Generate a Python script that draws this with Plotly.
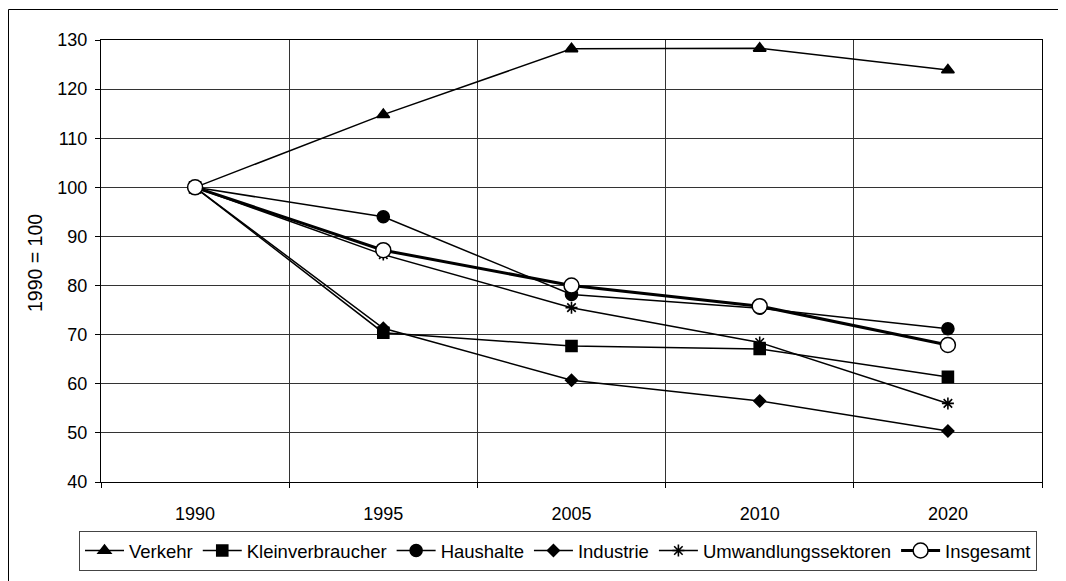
import plotly.graph_objects as go

years = ["1990", "1995", "2005", "2010", "2020"]
verkehr = [100, 114.8, 128.2, 128.3, 123.9]
kleinverbraucher = [100, 70.4, 67.7, 67.1, 61.4]
haushalte = [100, 94.0, 78.2, 75.4, 71.2]
industrie = [100, 71.3, 60.7, 56.5, 50.4]
umwandlung = [100, 86.3, 75.5, 68.4, 56.0]
insgesamt = [100, 87.2, 80.0, 75.8, 67.9]

series = [
    ("Verkehr", verkehr, "triangle-up", 11, 1.5),
    ("Kleinverbraucher", kleinverbraucher, "square", 11, 1.5),
    ("Haushalte", haushalte, "circle", 12, 1.5),
    ("Industrie", industrie, "diamond", 9, 1.5),
    ("Umwandlungssektoren", umwandlung, "asterisk-open", 10, 1.5),
]

FONT = "Liberation Sans, Arial, sans-serif"

fig = go.Figure()
for name, vals, sym, size, lw in series:
    fig.add_trace(go.Scatter(
        x=years, y=vals, name=name, mode="lines+markers",
        line=dict(color="black", width=lw),
        marker=dict(symbol=sym, size=size, color="black",
                    line=dict(color="black", width=1.6)),
    ))
fig.add_trace(go.Scatter(
    x=years, y=insgesamt, name="Insgesamt", mode="lines+markers",
    line=dict(color="black", width=3),
    marker=dict(symbol="circle", size=15, color="white",
                line=dict(color="black", width=1.5)),
))

# the page body has an 8px default margin; work in screenshot pixels
OFF = 8
W, H = 1066 - OFF, 581 - OFF
PL, PR, PT, PB = 101, 1042, 40, 482      # plot area in screenshot pixels
L, R, T, B = PL - OFF, W - (PR - OFF), PT - OFF, H - (PB - OFF)
pw = W - L - R
ph = H - T - B

def px(x):
    return (x - OFF - L) / pw

def py(y):
    return (H - B - (y - OFF)) / ph

fig.update_layout(
    template="none",
    width=W, height=H,
    margin=dict(l=L, r=R, t=T, b=B, pad=0, autoexpand=False),
    paper_bgcolor="white", plot_bgcolor="white",
    font=dict(family=FONT, size=18, color="black"),
    showlegend=True,
    legend=dict(
        orientation="h", xref="paper", yref="paper",
        x=px(79), xanchor="left",
        y=py(531), yanchor="top",
        bordercolor="#444", borderwidth=1, bgcolor="white",
        font=dict(size=18.5), itemwidth=39, tracegroupgap=0,
    ),
    xaxis=dict(
        type="category", tickson="boundaries", ticks="outside", ticklen=5,
        tickcolor="black", tickwidth=1, showgrid=True, gridcolor="#333",
        gridwidth=1, showline=True, linecolor="black", linewidth=1,
        mirror=True, range=[-0.5, 4.5], zeroline=False, fixedrange=True,
        automargin=False, ticklabelstandoff=15,
    ),
    yaxis=dict(
        range=[40, 130], dtick=10, tick0=40, ticks="outside", ticklen=5,
        tickcolor="black", tickwidth=1, showgrid=True, gridcolor="#333",
        gridwidth=1, showline=True, linecolor="black", linewidth=1,
        mirror=True, zeroline=False, fixedrange=True, automargin=False,
        ticklabelstandoff=4,
    ),
    annotations=[dict(
        text="1990 = 100", xref="paper", yref="paper",
        x=px(35), y=py(263), xanchor="center", yanchor="middle",
        textangle=-90, showarrow=False, font=dict(size=19.5),
    )],
    shapes=[
        dict(type="line", xref="paper", yref="paper",
             x0=px(8.5), x1=px(1080), y0=py(9.5), y1=py(9.5),
             line=dict(color="black", width=1)),
        dict(type="line", xref="paper", yref="paper",
             x0=px(8.5), x1=px(8.5), y0=py(9.5), y1=py(600),
             line=dict(color="black", width=1)),
    ],
)

fig.write_html("out.html")
